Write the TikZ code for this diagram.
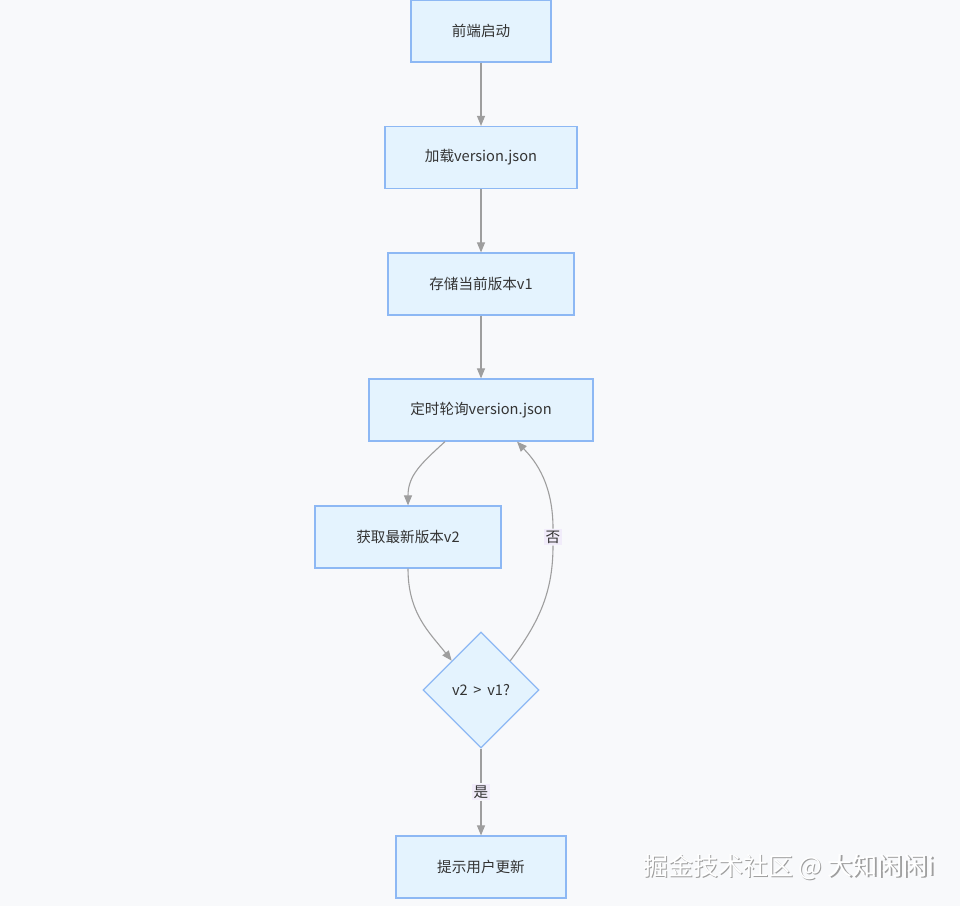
\documentclass[tikz,border=0pt]{standalone}
\usepackage{fontspec}
\setmainfont{Noto Sans CJK SC}
\usetikzlibrary{shapes.geometric,arrows.meta,calc}
\definecolor{bgc}{HTML}{F8F9FB}
\definecolor{nodefill}{HTML}{E4F3FE}
\definecolor{nodeline}{HTML}{8DB8F4}
\definecolor{edgec}{HTML}{9E9E9E}
\definecolor{lblbg}{HTML}{F1ECFA}
\definecolor{txt}{HTML}{333333}
\begin{document}
\begin{tikzpicture}[x=1pt,y=-1pt,
  box/.style={draw=nodeline,fill=nodefill,line width=1.2pt,minimum height=62pt,inner sep=0pt,text=txt,font=\fontsize{14.6}{16}\selectfont},
  dia/.style={diamond,aspect=1,draw=nodeline,fill=nodefill,line width=1.2pt,minimum width=116pt,minimum height=116pt,inner sep=0pt,text=txt,font=\fontsize{14.6}{16}\selectfont},
  edge/.style={draw=edgec,line width=1.1pt,-{Triangle[length=10pt,width=8pt]}},
  lbl/.style={fill=lblbg,inner sep=2pt,text=txt,font=\fontsize{14.6}{16}\selectfont}]
\useasboundingbox (0,0) rectangle (960,906);
\fill[bgc] (0,0) rectangle (960,906);
\node[box,minimum width=140pt] (A) at (481,31) {前端启动};
\node[box,minimum width=192pt] (B) at (481,157.5) {加载version.json};
\node[box,minimum width=186pt] (C) at (481,284) {存储当前版本v1};
\node[box,minimum width=224pt] (D) at (481,410) {定时轮询version.json};
\node[box,minimum width=186pt] (E) at (408,537) {获取最新版本v2};
\node[dia] (F) at (481,690) {v2 \,>\, v1?};
\node[box,minimum width=170pt] (G) at (481,867) {提示用户更新};
\draw[edge] (A) -- (B);
\draw[edge] (B) -- (C);
\draw[edge] (C) -- (D);
\draw[edge] ($(D.south)+(-36,0)$) .. controls ($(D.south)+(-60,22)$) and ($(E.north)+(0,-30)$) .. (E.north);
\draw[edge] (E.south) .. controls ($(E.south)+(0,45)$) and ($(F.north west)+(-22,-28)$) .. (F.north west);
\node[lbl] (no) at (553,537) {否};
\draw[draw=edgec,line width=1.1pt] (F.north east) .. controls ($(F.north east)+(30,-40)$) and ($(no.south)+(0,45)$) .. (no.south);
\draw[edge] (no.north) .. controls ($(no.north)+(0,-50)$) and ($(D.south)+(50,15)$) .. ($(D.south)+(36,0)$);
\node[lbl] (yes) at (481,792) {是};
\draw[draw=edgec,line width=1.1pt] (F.south) -- (yes.north);
\draw[edge] (yes.south) -- (G.north);
\node[text=gray!75,font=\fontsize{25}{27}\selectfont] (wm0) at (790.2,868.2) {掘金技术社区 @ 大知闲闲i};
\node[text=white,font=\fontsize{25}{27}\selectfont] (wm) at (789,867) {掘金技术社区 @ 大知闲闲i};
\end{tikzpicture}
\end{document}
